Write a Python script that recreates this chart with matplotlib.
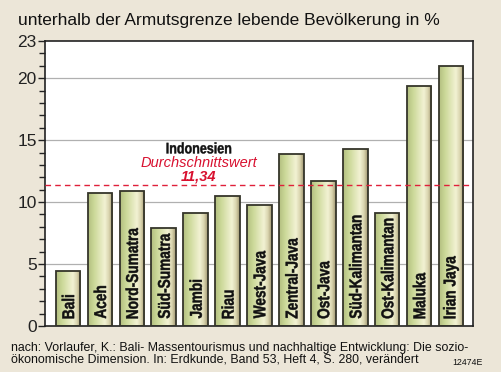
import matplotlib
matplotlib.use("Agg")
import matplotlib.pyplot as plt
import numpy as np
from matplotlib import font_manager
from matplotlib.textpath import TextPath
from matplotlib.patches import PathPatch
from matplotlib.font_manager import FontProperties
from matplotlib.transforms import Affine2D, ScaledTranslation

regions = ["Bali", "Aceh", "Nord-Sumatra", "Süd-Sumatra", "Jambi", "Riau", "West-Java",
           "Zentral-Java", "Ost-Java", "Süd-Kalimantan", "Ost-Kalimantan", "Maluka", "Irian Jaya"]
values = [4.4, 10.7, 10.9, 7.9, 9.1, 10.5, 9.8, 13.9, 11.7, 14.3, 9.1, 19.4, 21.0]
average = 11.34
yticks = [0, 5, 10, 15, 20, 23]

names = {f.name for f in font_manager.fontManager.ttflist}
base = "Liberation Sans" if "Liberation Sans" in names else "DejaVu Sans"

DPI = 100
bg = "#ece6d8"
fig = plt.figure(figsize=(5.01, 3.72), dpi=DPI, facecolor=bg)
ax = fig.add_axes([45/501, 1 - 326/372, 428/501, 285/372])
ax.set_facecolor("white")
ax.set_xlim(-0.72, 12.69)
ax.set_ylim(0, 23)

for y in [5, 10, 15, 20]:
    ax.axhline(y, color="#b0b0b0", lw=0.9, zorder=0)


def condensed(ax, x, y, s, size, squeeze=0.8, rotate=False, color="#111111", zorder=6, stroke=0.35):
    prop = FontProperties(family=base, weight="bold")
    tp = TextPath((0, 0), s, size=size, prop=prop)
    ext = tp.get_extents()
    k = DPI / 72.0
    capc = (ext.y0 + ext.y1) / 2
    if rotate:
        tr = (Affine2D().translate(-ext.x0, -capc).scale(squeeze * k, k).rotate_deg(90)
              + ScaledTranslation(x, y, ax.transData))
    else:
        wdt = ext.x1 - ext.x0
        tr = (Affine2D().translate(-ext.x0 - wdt / 2, -capc).scale(squeeze * k, k)
              + ScaledTranslation(x, y, ax.transData))
    patch = PathPatch(tp, transform=tr, facecolor=color, edgecolor=color, lw=stroke,
                      zorder=zorder, clip_on=False)
    ax.add_artist(patch)


w = 0.77
bars = ax.bar(range(len(values)), values, width=w, color="none", edgecolor="#35352a", lw=1.3, zorder=3)
stops = [0.0, 0.25, 0.68, 0.85, 1.0]
cols = np.array([[0.70, 0.75, 0.50],
                 [0.80, 0.85, 0.60],
                 [0.95, 0.95, 0.83],
                 [0.85, 0.83, 0.68],
                 [0.62, 0.58, 0.44]])
g = np.linspace(0, 1, 80)
img = np.stack([np.interp(g, stops, cols[:, c]) for c in range(3)], axis=1)[None, :, :]
for i, (b, v) in enumerate(zip(bars, values)):
    x0 = b.get_x()
    im = ax.imshow(img, extent=[x0, x0 + w, 0, v], aspect="auto", zorder=2, interpolation="bilinear")
    im.set_clip_path(b)
    condensed(ax, i, 0.62, regions[i], size=12.3, squeeze=0.8, rotate=True)

ax.axhline(average, color="#e0203a", lw=1.0, ls=(0, (4, 3)), zorder=5)
condensed(ax, 4.1, 14.37, "Indonesien", size=11, squeeze=0.82, stroke=0.3)
ax.text(4.1, 13.16, "Durchschnittswert", ha="center", va="center", fontsize=10.5, style="italic", family=base, color="#d8102f")
ax.text(4.1, 12.03, "11,34", ha="center", va="center", fontsize=10.5, style="italic", fontweight="bold", family=base, color="#d8102f")

ax.set_xticks([])
ax.set_yticks(yticks)
ax.set_yticks(range(0, 24), minor=True)
ax.tick_params(axis="y", which="major", length=5, width=1, labelsize=12.5, pad=1, direction="out", colors="#222222")
ax.tick_params(axis="y", which="minor", length=4, width=1, direction="out", color="#222222")
for lab in ax.get_yticklabels():
    lab.set_family(base)
for s in ax.spines.values():
    s.set_color("#222222")
    s.set_linewidth(1.2)

fig.text(18/501, 1 - 25.5/372, "unterhalb der Armutsgrenze lebende Bevölkerung in %", ha="left", va="baseline",
         fontsize=12.5, family=base, color="#111111")
fig.text(11/501, 1 - 350.5/372, "nach: Vorlaufer, K.: Bali- Massentourismus und nachhaltige Entwicklung: Die sozio-",
         ha="left", va="baseline", fontsize=8.95, family=base, color="#111111")
fig.text(11/501, 1 - 362.5/372, "ökonomische Dimension. In: Erdkunde, Band 53, Heft 4, S. 280, verändert",
         ha="left", va="baseline", fontsize=8.95, family=base, color="#111111")
fig.text(483/501, 1 - 365/372, "12474E", ha="right", va="baseline", fontsize=6.3, family=base, color="#111111")

fig.savefig("out.png", dpi=DPI, facecolor=bg)
